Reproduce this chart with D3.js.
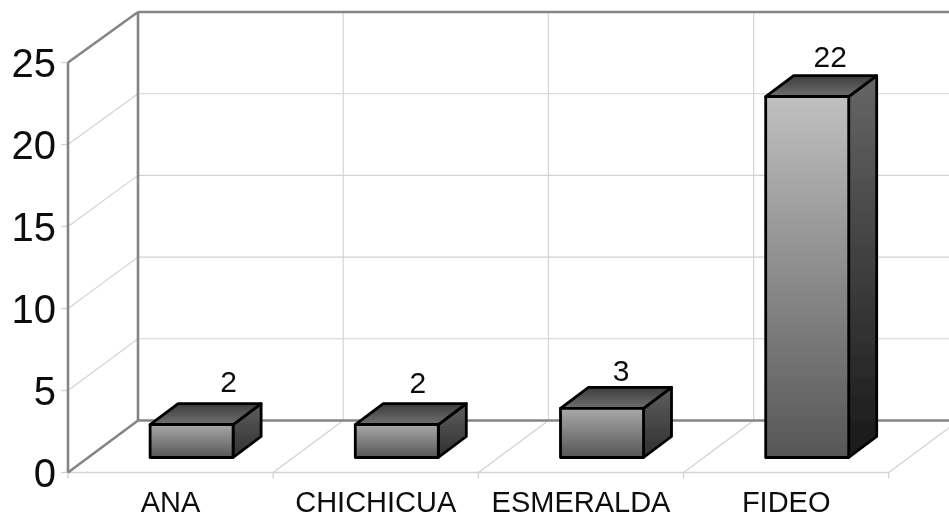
<!DOCTYPE html>
<html><head><meta charset="utf-8">
<script src="https://cdn.jsdelivr.net/npm/d3@7/dist/d3.min.js"></script>
<style>html,body{margin:0;padding:0;background:#fff;overflow:hidden}svg{display:block}text{font-family:"Liberation Sans",Arial,sans-serif;fill:#111}</style>
</head><body><svg id="c" width="949" height="518"></svg>
<script>
const categories = ["ANA","CHICHICUA","ESMERALDA","FIDEO","" ];
const values = [2,2,3,22];
const yTicks = [0,5,10,15,20,25];
const labelNudgeX = [23,7,5,9];
const labelNudgeY = [-12,-11,-6,-9];

const W=949,H=518;
const svg=d3.select("#c");
const defs=svg.append("defs");
defs.append("filter").attr("id","soft").attr("x","-2%").attr("y","-2%").attr("width","104%").attr("height","104%")
  .append("feGaussianBlur").attr("stdDeviation",0.5);
const g=svg.append("g").attr("filter","url(#soft)");

const x=d3.scaleBand().domain(categories).range([68,68+205.2*5]).paddingInner(0).paddingOuter(0);
const y=d3.scaleLinear().domain([0,25]).range([472.5,62.5]);
const yBack=d3.scaleLinear().domain([0,25]).range([420.5,12]);
const dx=70;
const heavy="#858585",light="#d2d2d2";
const line=(x1,y1,x2,y2,c,w)=>g.append("line").attr("x1",x1).attr("y1",y1).attr("x2",x2).attr("y2",y2).attr("stroke",c).attr("stroke-width",w);

const x0=x.range()[0], xEnd=x0+205.2*4;
// gridlines on walls and floor
yTicks.slice(1,-1).forEach(t=>{
  line(x0,y(t),x0+dx,yBack(t),light,1.1);
  line(x0+dx,yBack(t),W+5,yBack(t),light,1.1);
});
categories.forEach((c,i)=>{
  if(i===0) return;
  const px=x(c);
  line(px,y(0),px+dx,yBack(0),light,1.3);
  line(px+dx,yBack(0),px+dx,yBack(25),light,1.1);
});
// tick marks
yTicks.forEach(t=>line(x0-7,y(t),x0,y(t),light,1.3));
categories.forEach(c=>line(x(c),y(0),x(c),y(0)+6,light,1.3));
// floor front
line(x0,y(0),xEnd,y(0),light,1.6);
// frame
line(x0+dx,yBack(0),W+5,yBack(0),heavy,2.6);
line(x0+dx,yBack(25),W+5,yBack(25),heavy,2.6);
line(x0+dx,yBack(0),x0+dx,yBack(25),heavy,2.6);
line(x0,y(0),x0,y(25),heavy,2.6);
line(x0,y(0),x0+dx,yBack(0),heavy,2.6);
line(x0,y(25),x0+dx,yBack(25),heavy,2.6);

// bars
const barW=83, front={x:21,y:-15}, depth={x:28,y:-21};
const lightTop=d3.scaleLinear().domain([2,22]).range(["#a8a8a8","#c0c0c0"]);
const sideTop=d3.scaleLinear().domain([2,22]).range(["#5e5e5e","#666666"]);
const sideBot=d3.scaleLinear().domain([2,22]).range(["#303030","#181818"]);
function grad(id,a,b){
  const l=defs.append("linearGradient").attr("id",id).attr("x1",0).attr("y1",0).attr("x2",0).attr("y2",1);
  l.append("stop").attr("offset",0).attr("stop-color",a);
  l.append("stop").attr("offset",1).attr("stop-color",b);
}
const pts=a=>a.map(p=>p.join(",")).join(" ");
values.forEach((v,i)=>{
  const c=categories[i];
  const bx=x(c)+(x.bandwidth()-barW)/2+front.x;
  const base=y(0)+front.y;
  const top=base-(y(0)-y(v));
  grad("f"+i,lightTop(v),"#565656");
  grad("s"+i,sideTop(v),sideBot(v));
  grad("t"+i,"#3c3c3c","#707070");
  const b=g.append("g").attr("stroke","#000").attr("stroke-width",2.8).attr("stroke-linejoin","round");
  b.append("polygon").attr("points",pts([[bx+barW,top],[bx+barW+depth.x,top+depth.y],[bx+barW+depth.x,base+depth.y],[bx+barW,base]])).attr("fill",`url(#s${i})`);
  b.append("polygon").attr("points",pts([[bx,top],[bx+depth.x,top+depth.y],[bx+barW+depth.x,top+depth.y],[bx+barW,top]])).attr("fill",`url(#t${i})`);
  b.append("rect").attr("x",bx).attr("y",top).attr("width",barW).attr("height",base-top).attr("fill",`url(#f${i})`);
  g.append("text").attr("x",bx+barW/2+depth.x/2+labelNudgeX[i]).attr("y",top+depth.y+labelNudgeY[i])
    .attr("text-anchor","middle").attr("font-size",30).text(v);
});
// axis labels
g.selectAll(".yl").data(yTicks).join("text").attr("x",56).attr("y",d=>y(d)+14.5)
  .attr("text-anchor","end").attr("font-size",40).text(d=>d);
g.selectAll(".xl").data(categories.slice(0,4)).join("text").attr("x",d=>x(d)+x.bandwidth()/2).attr("y",511.5)
  .attr("text-anchor","middle").attr("font-size",29).text(d=>d);
</script></body></html>
